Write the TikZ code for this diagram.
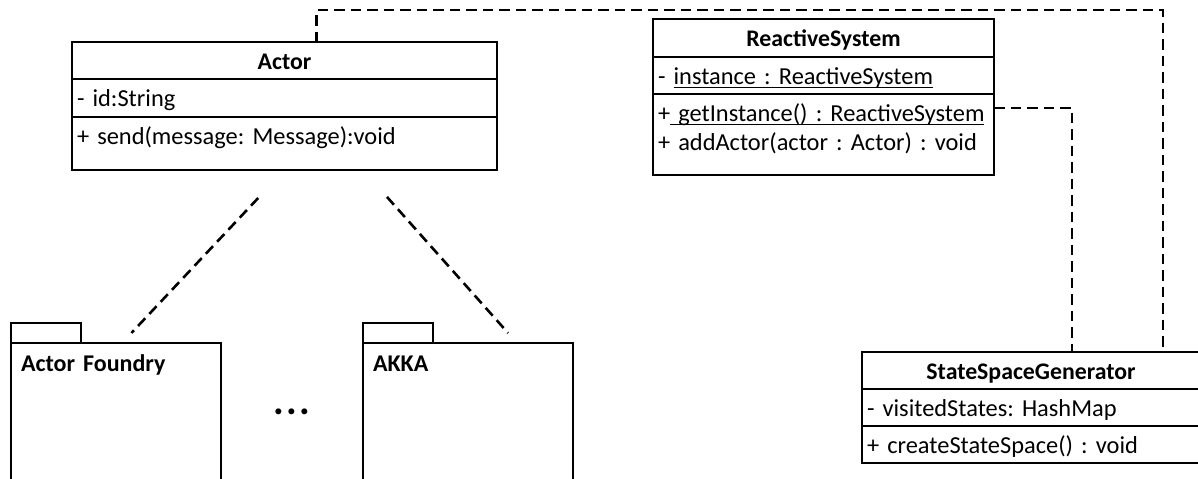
\documentclass[tikz,border=0pt]{standalone}
\usepackage{fontspec}
\setmainfont{Carlito}
\usetikzlibrary{positioning,calc}

% underline that sits close to the baseline
\newcommand{\undl}[1]{\setbox0\hbox{#1}\rlap{\rule[-1.8pt]{\wd0}{0.6pt}}\box0}

\begin{document}
\frenchspacing
\begin{tikzpicture}[x=0.5pt, y=-0.5pt,
    every node/.style={font=\fontsize{12.2}{14.2}\selectfont, outer sep=0pt},
    clspart/.style={draw, line width=0.8pt, inner xsep=2.5pt, inner ysep=0pt, align=left, text height=13.8pt},
    clshead/.style={clspart, align=center, font=\fontsize{11.9}{14.2}\selectfont\bfseries},
    pkgtab/.style={draw, line width=0.8pt, minimum width=35pt, minimum height=10pt, inner sep=0pt},
    pkgbody/.style={draw, line width=0.8pt, inner xsep=5pt, inner ysep=0pt, text width=95pt, align=left,
        text height=14pt, text depth=54.5pt, font=\fontsize{12}{14}\selectfont\bfseries},
    dep/.style={dash pattern=on 5.25pt off 3pt, line width=1.3pt}
]
    \useasboundingbox (0,0) rectangle (1198,478);
    \clip (0,0) rectangle (1198,478);

    % Actor class
    \node[clshead, text width=207.5pt, text depth=4.7pt, anchor=north west] (actorHead) at (72,42) {Actor};
    \node[clspart, text width=207.5pt, text depth=5.2pt, below=0pt of actorHead] (actorAttr) {- id:String};
    \node[clspart, text width=207.5pt, text depth=12.7pt, below=0pt of actorAttr] (actorOps) {+ send(message: Message):void};

    % ReactiveSystem class
    \node[clshead, text width=165.5pt, text depth=5.2pt, anchor=north west] (rsHead) at (653,19) {ReactiveSystem};
    \node[clspart, text width=165.5pt, text depth=4.7pt, below=0pt of rsHead] (rsAttr) {- \undl{instance : ReactiveSystem}};
    \node[clspart, text width=165.5pt, text depth=26.7pt, below=0pt of rsAttr] (rsOps) {+\undl{ getInstance() : ReactiveSystem}\\+ addActor(actor : Actor) : void};

    % StateSpaceGenerator class
    \node[clshead, text width=164pt, text depth=4.7pt, anchor=north west] (ssgHead) at (862,352) {StateSpaceGenerator};
    \node[clspart, text width=164pt, text depth=4.7pt, below=0pt of ssgHead] (ssgAttr) {- visitedStates: HashMap};
    \node[clspart, text width=164pt, text depth=4.7pt, below=0pt of ssgAttr] (ssgOps) {+ createStateSpace() : void};

    % packages
    \node[pkgbody, anchor=north west] (afBody) at (11,343) {Actor Foundry};
    \node[pkgtab, anchor=south west] (afTab) at (afBody.north west) {};
    \node[pkgbody, anchor=north west] (akkaBody) at (363,343) {AKKA};
    \node[pkgtab, anchor=south west] (akkaTab) at (akkaBody.north west) {};

    \node (dots) at (292,412) {\fontsize{20}{20}\selectfont\bfseries .\kern1.2pt.\kern1.2pt.};

    % dependencies
    \draw[dep] ($(actorAttr.south east)+(0,-13)$) -- ($(actorAttr.south east)+(0,-13)$ -| rsOps.west);
    \draw[dep] ($(rsOps.north east)+(0,14)$) -| ($(ssgHead.north west)+(210,0)$);
    \draw[dep] ($(actorHead.north)+(32,0)$) -- ++(0,-32) -| ($(ssgHead.north west)+(301,0)$);
    \draw[dep, shorten <=19.2pt, shorten >=6.9pt] (actorOps.south) -- ($(afBody.north west)+(111,0)$);
    \draw[dep, shorten <=18pt, shorten >=6.7pt] ($(actorOps.south)+(78.5,0)$) -- ($(akkaBody.north west)+(154,0)$);
\end{tikzpicture}
\end{document}
